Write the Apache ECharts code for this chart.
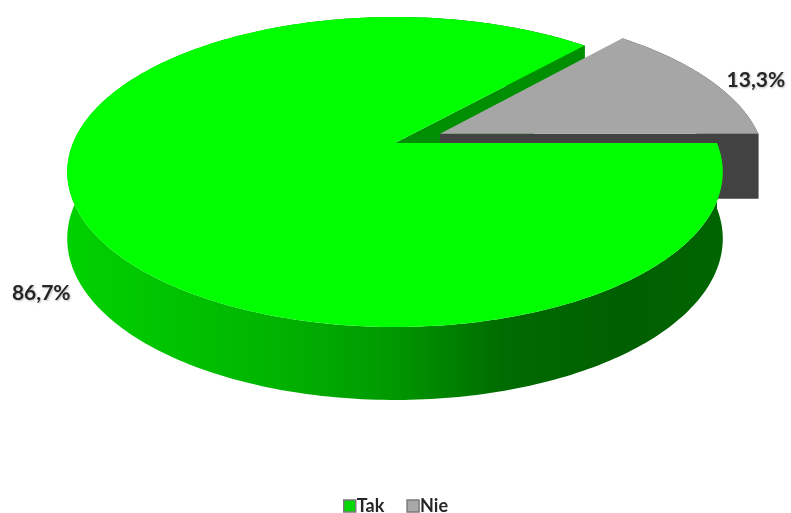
<!DOCTYPE html>
<html>
<head>
<meta charset="utf-8">
<script src="https://cdn.jsdelivr.net/npm/echarts@6/dist/echarts.min.js"></script>
<style>
  html, body { margin: 0; padding: 0; background: #ffffff; }
  #chart { width: 791px; height: 513px; }
</style>
</head>
<body>
<div id="chart"></div>
<script>
// Survey answers
const categories = ['Tak', 'Nie'];
const values = [86.7, 13.3];
const valueLabels = ['86,7%', '13,3%'];
// how far each slice is pulled out of the pie (fraction of radius)
const explodeBy = [0, 0.155];

// Colours per slice: top face, cut faces, outer wall gradient stops
const palette = [
  {
    top: '#00ff00',
    cut: '#008f00',
    wall: [[0, '#00d200'], [0.3, '#00b600'], [0.5, '#009800'], [0.66, '#006c00'], [0.85, '#005f00'], [1, '#006600']]
  },
  {
    top: '#a6a6a6',
    cut: '#424242',
    wall: [[0, '#5a5a5a'], [1, '#3a3a3a']]
  }
];

// Perspective view of the disc: u to the right, v away from viewer, h downwards (thickness)
const view = { cx: 395, cy: 143, rx: 322, ry: 149.6, dist: 5.35, height: 65.4, hDist: 9.64 };
function project(u, v, h) {
  const s = view.dist / (view.dist + v);
  const sh = view.hDist / (view.hDist + v);
  return [view.cx + view.rx * u * s, view.cy - view.ry * v * s + h * view.height * sh];
}

const total = values.reduce((a, b) => a + b, 0);
// slices run clockwise from 3 o'clock; angles in degrees, counter-clockwise positive
function sliceRange(i) {
  let before = 0;
  for (let k = 0; k < i; k++) before += values[k];
  const start = -before / total * 360;
  const end = -(before + values[i]) / total * 360;
  return [end, start];
}
const rad = d => d * Math.PI / 180;

function buildSlice(i) {
  const [a0, a1] = sliceRange(i);
  const mid = rad((a0 + a1) / 2);
  const ox = explodeBy[i] * Math.cos(mid);
  const oy = explodeBy[i] * Math.sin(mid);
  const steps = Math.max(2, Math.ceil(a1 - a0));
  const rimTop = [], rimBottom = [];
  for (let k = 0; k <= steps; k++) {
    const a = rad(a0 + (a1 - a0) * k / steps);
    const u = ox + Math.cos(a), v = oy + Math.sin(a);
    rimTop.push(project(u, v, 0));
    rimBottom.push(project(u, v, 1));
  }
  const col = palette[i];
  // a pulled-out slice sits in front of the other slice's cut faces,
  // but behind its top face
  const pulled = explodeBy[i] > 0;
  const order = pulled ? { wall: 3, cut: 4, top: 5 } : { wall: 1, cut: 2, top: 6 };
  const children = [];

  // outer wall
  children.push({
    type: 'polygon',
    z2: order.wall,
    shape: { points: rimTop.concat(rimBottom.slice().reverse()) },
    style: {
      fill: {
        type: 'linear', x: 64, y: 0, x2: 725, y2: 0, global: true,
        colorStops: col.wall.map(s => ({ offset: s[0], color: s[1] }))
      }
    }
  });

  // cut faces that face the viewer
  const camU = 0, camV = -view.dist;
  [[a0, -1], [a1, 1]].forEach(([a, side]) => {
    const ar = rad(a);
    const nx = side < 0 ? Math.sin(ar) : -Math.sin(ar);
    const ny = side < 0 ? -Math.cos(ar) : Math.cos(ar);
    if ((camU - ox) * nx + (camV - oy) * ny <= 0) return;
    const ru = ox + Math.cos(ar), rv = oy + Math.sin(ar);
    children.push({
      type: 'polygon',
      z2: order.cut,
      shape: { points: [project(ox, oy, 0), project(ru, rv, 0), project(ru, rv, 1), project(ox, oy, 1)] },
      style: { fill: col.cut }
    });
  });

  // top face
  children.push({
    type: 'polygon',
    z2: order.top,
    shape: { points: [project(ox, oy, 0)].concat(rimTop) },
    style: { fill: col.top }
  });

  return { children, mid, ox, oy };
}

function renderSlice(i, labelCfg) {
  return function () {
    const s = buildSlice(i);
    const u = s.ox + Math.cos(s.mid), v = s.oy + Math.sin(s.mid);
    const p = project(u, v, labelCfg.h);
    s.children.push({
      type: 'text',
      z2: 10,
      x: p[0] + labelCfg.dx,
      y: p[1] + labelCfg.dy,
      style: {
        text: valueLabels[i],
        fill: '#262626',
        font: 'bold 21px Lato, "Open Sans", sans-serif',
        align: labelCfg.align,
        verticalAlign: 'middle',
        textShadowColor: 'rgba(0,0,0,0.25)',
        textShadowBlur: 2,
        textShadowOffsetX: 1,
        textShadowOffsetY: 1
      }
    });
    return { type: 'group', children: s.children };
  };
}

const labelPlacement = [
  { h: 1, dx: -6, dy: 16, align: 'right' },
  { h: 0, dx: 19, dy: 2, align: 'left' }
];

const chart = echarts.init(document.getElementById('chart'), null, { renderer: 'canvas' });
chart.setOption({
  animation: false,
  backgroundColor: '#ffffff',
  legend: {
    bottom: -7,
    left: 'center',
    itemWidth: 12,
    itemHeight: 12,
    itemGap: 22,
    icon: 'rect',
    textStyle: { fontFamily: 'Lato, "Open Sans", sans-serif', fontWeight: 'bold', fontSize: 18, color: '#262626', padding: [0, 0, 0, -4] },
    data: [
      { name: categories[0], itemStyle: { color: '#00d800', borderColor: '#7a7a7a', borderWidth: 1.5 } },
      { name: categories[1], itemStyle: { color: '#a8a8a8', borderColor: '#7a7a7a', borderWidth: 1.5 } }
    ]
  },
  series: categories.map((name, i) => ({
    type: 'custom',
    name: name,
    coordinateSystem: 'none',
    z: 2,
    itemStyle: { color: palette[i].top },
    data: [[values[i]]],
    renderItem: renderSlice(i, labelPlacement[i])
  }))
});
</script>
</body>
</html>
